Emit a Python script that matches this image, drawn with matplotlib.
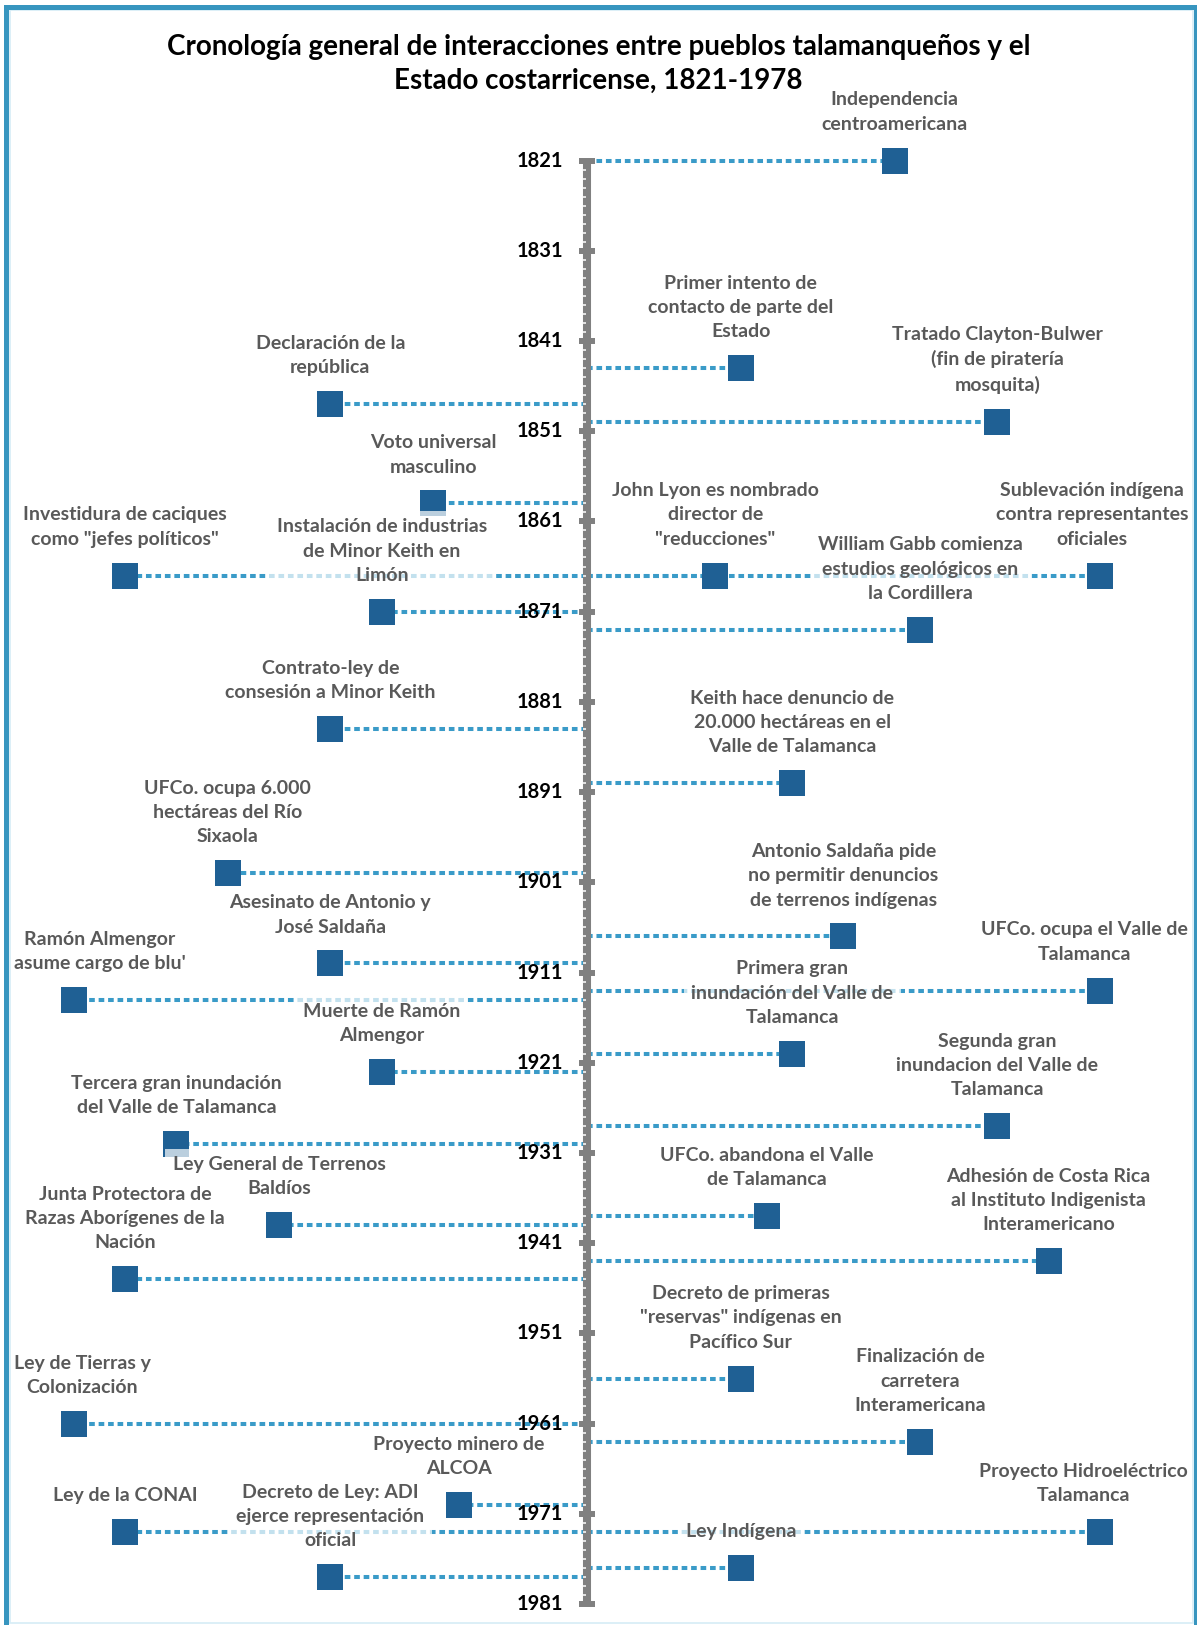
import matplotlib
matplotlib.use("Agg")
import matplotlib.pyplot as plt
from matplotlib.patches import Rectangle

plt.rcParams['font.family'] = ['Lato', 'DejaVu Sans']

# event years and horizontal side/offset of each marker
years = [1821, 1844, 1848, 1850, 1859, 1867, 1867, 1867, 1871, 1873,
         1884, 1890, 1900, 1907, 1910, 1913, 1914, 1920, 1922, 1928,
         1930, 1938, 1939, 1943, 1945, 1956, 1961, 1963, 1970, 1973,
         1973, 1977, 1978]
offsets = [6, 3, -5, 8, -3, -9, 2.5, 10, -4, 6.5,
           -5, 4, -7, 5, -5, 10, -10, 4, -4, 8,
           -8, 3.5, -6, 9, -9, 3, -10, 6.5, -2.5, -9,
           10, 3, -5]
events = [
    "Independencia\ncentroamericana",
    "Primer intento de\ncontacto de parte del\nEstado",
    "Declaración de la\nrepública",
    "Tratado Clayton-Bulwer\n(fin de piratería\nmosquita)",
    "Voto universal\nmasculino",
    "Investidura de caciques\ncomo \"jefes políticos\"",
    "John Lyon es nombrado\ndirector de\n\"reducciones\"",
    "Sublevación indígena\ncontra representantes\noficiales",
    "Instalación de industrias\nde Minor Keith en\nLimón",
    "William Gabb comienza\nestudios geológicos en\nla Cordillera",
    "Contrato-ley de\nconsesión a Minor Keith",
    "Keith hace denuncio de\n20.000 hectáreas en el\nValle de Talamanca",
    "UFCo. ocupa 6.000\nhectáreas del Río\nSixaola",
    "Antonio Saldaña pide\nno permitir denuncios\nde terrenos indígenas",
    "Asesinato de Antonio y\nJosé Saldaña",
    "UFCo. ocupa el Valle de\nTalamanca",
    "Ramón Almengor\nasume cargo de blu'",
    "Primera gran\ninundación del Valle de\nTalamanca",
    "Muerte de Ramón\nAlmengor",
    "Segunda gran\ninundacion del Valle de\nTalamanca",
    "Tercera gran inundación\ndel Valle de Talamanca",
    "UFCo. abandona el Valle\nde Talamanca",
    "Ley General de Terrenos\nBaldíos",
    "Adhesión de Costa Rica\nal Instituto Indigenista\nInteramericano",
    "Junta Protectora de\nRazas Aborígenes de la\nNación",
    "Decreto de primeras\n\"reservas\" indígenas en\nPacífico Sur",
    "Ley de Tierras y\nColonización",
    "Finalización de\ncarretera\nInteramericana",
    "Proyecto minero de\nALCOA",
    "Ley de la CONAI",
    "Proyecto Hidroeléctrico\nTalamanca",
    "Ley Indígena",
    "Decreto de Ley: ADI\nejerce representación\noficial",
]

axis_start, axis_end = 1821, 1981
major_years = list(range(axis_start, axis_end + 1, 10))
minor_years = [y for y in range(axis_start, axis_end + 1) if y not in major_years]

title = "Cronología general de interacciones entre pueblos talamanqueños y el\nEstado costarricense, 1821-1978"

line_c = '#3A9BC8'
marker_c = '#1F6094'
axis_c = '#808080'
text_c = '#595959'
border_c = '#3795BF'

W, H, DPI = 1197, 1625, 100
fig = plt.figure(figsize=(W / DPI, H / DPI), dpi=DPI)
ax = fig.add_axes([0, 0, 1, 1])
ax.set_xlim(-11.44, 11.89)
ax.set_ylim(1983.32, 1803.21)
ax.axis('off')

# connectors and markers
for y, x in zip(years, offsets):
    ax.plot([0, x], [y, y], color=line_c, lw=2.9, ls=(0, (1.4, 0.95)),
            dash_capstyle='butt', zorder=2)
ax.plot(offsets, years, ls='none', marker='s', ms=18.7, mew=0,
        color=marker_c, zorder=3)

# central time axis
ax.plot([0, 0], [axis_start, axis_end], color=axis_c, lw=5.8,
        solid_capstyle='butt', zorder=4)
ax.plot([0] * len(major_years), major_years, ls='none', marker='_',
        ms=12.2, mew=4.3, color=axis_c, zorder=4)
ax.plot([0] * len(minor_years), minor_years, ls='none',
        marker=[(-4, 0), (-1.3, 0)], ms=5.8, mew=1.1, color='white', zorder=4.5)

for y in major_years:
    ax.annotate(str(y), xy=(0, y), xytext=(-17, 0), textcoords='offset points',
                ha='right', va='center', fontsize=14.5, fontweight='bold',
                color='black', zorder=7)

# event labels
annots = []
for y, x, txt in zip(years, offsets, events):
    a = ax.annotate(txt, xy=(x, y), xytext=(0, 20), textcoords='offset points',
                    ha='center', va='bottom', fontsize=14, fontweight='bold',
                    color=text_c, linespacing=1.52, zorder=6,
                    bbox=dict(boxstyle='square,pad=0.38', fc='white', ec='none', alpha=0.7))
    annots.append(a)

fig.text(0.5, 1 - 64 / H, title, ha='center', va='center', fontsize=20,
         fontweight='bold', color='black', linespacing=1.38)

# keep labels inside the frame
fig.canvas.draw()
r = fig.canvas.get_renderer()
for a in annots:
    bb = a.get_window_extent(r)
    shift = 0
    if bb.x0 < 14:
        shift = 14 - bb.x0
    elif bb.x1 > 1188:
        shift = 1188 - bb.x1
    if shift:
        ox, oy = a.xyann
        a.xyann = (ox + shift * 72 / DPI, oy)

# frame
fig.patches.append(Rectangle((9.5 / W, 2.3 / H), (1192.5 - 9.5) / W, (H - 10 - 2.3) / H,
                             transform=fig.transFigure, fill=False, ec='#D6ECF6', lw=1.2))
fig.patches.append(Rectangle((5.8 / W, -20 / H), (1195.5 - 5.8) / W, (H - 6.5 + 20) / H,
                             transform=fig.transFigure, fill=False, ec=border_c, lw=3.6))

fig.savefig('out.png', dpi=DPI)
